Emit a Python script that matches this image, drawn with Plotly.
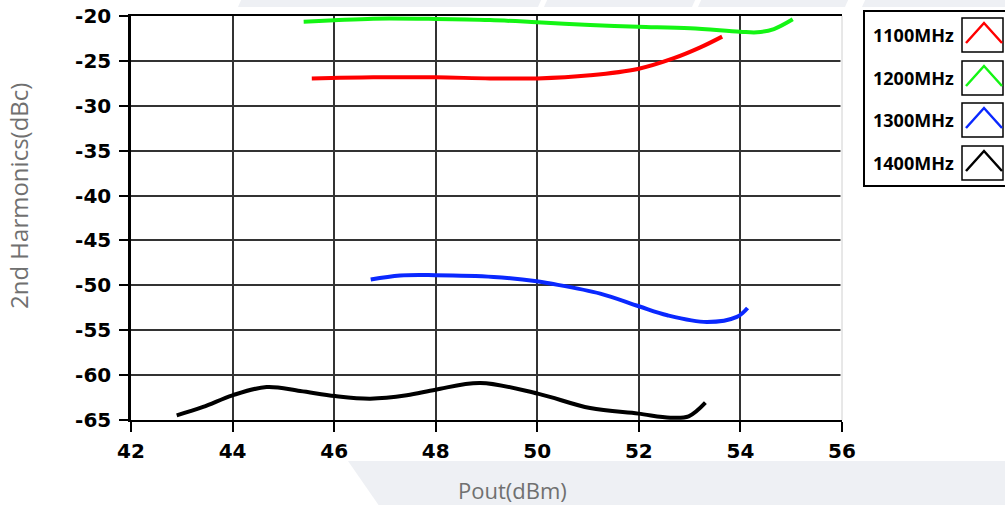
import plotly.graph_objects as go

# ---- data ----
series_names = ["1100MHz", "1200MHz", "1300MHz", "1400MHz"]
series_colors = ["#ff0000", "#14f514", "#0a28ff", "#000000"]

pout_1100 = [45.56, 46.77, 48.0, 49.07, 50.0, 51.04, 51.98, 52.69, 53.21, 53.64]
h2_1100 = [-26.95, -26.83, -26.83, -26.95, -26.95, -26.6, -25.9, -24.7, -23.5, -22.3]

pout_1200 = [45.40, 46.0, 46.77, 48.0, 49.07, 50.0, 51.04, 51.98, 53.01, 53.99, 54.33, 54.66, 55.03]
h2_1200 = [-20.64, -20.48, -20.3, -20.33, -20.45, -20.7, -21.0, -21.19, -21.37, -21.75, -21.82, -21.45, -20.37]

pout_1300 = [46.72, 47.30, 47.99, 49.14, 49.99, 50.26, 51.24, 52.0, 52.56, 53.34, 53.93, 54.14]
h2_1300 = [-49.36, -48.91, -48.87, -49.06, -49.54, -49.8, -50.92, -52.33, -53.33, -54.08, -53.52, -52.52]

pout_1400 = [42.9, 43.42, 44.0, 44.67, 45.33, 46.02, 46.71, 47.43, 48.0, 48.88, 50.01, 51.04, 51.99, 52.62, 52.98, 53.31]
h2_1400 = [-64.48, -63.55, -62.25, -61.33, -61.77, -62.33, -62.62, -62.25, -61.62, -60.88, -62.06, -63.67, -64.29, -64.74, -64.59, -63.07]

x_ticks = [42, 44, 46, 48, 50, 52, 54, 56]
y_ticks = [-20, -25, -30, -35, -40, -45, -50, -55, -60, -65]

x_title = "Pout(dBm)"
y_title = "2nd Harmonics(dBc)"

# ---- figure ----
W, H = 1005, 505
L, R, T, B = 131, 842, 16, 420


def px(x):
    return (x - L) / (R - L)


def py(y):
    return (B - y) / (B - T)


fig = go.Figure()
for name, color, xs, ys in zip(series_names, series_colors,
                               [pout_1100, pout_1200, pout_1300, pout_1400],
                               [h2_1100, h2_1200, h2_1300, h2_1400]):
    fig.add_trace(go.Scatter(x=xs, y=ys, mode="lines", name=name,
                             line=dict(color=color, width=4, shape="spline"),
                             showlegend=False, cliponaxis=False))

tick_font = dict(family="DejaVu Sans", size=20, color="#000000", weight="bold")

fig.update_layout(
    width=W, height=H,
    margin=dict(l=L, r=W - R, t=T, b=H - B, pad=0, autoexpand=False),
    paper_bgcolor="#ffffff", plot_bgcolor="#ffffff",
    xaxis=dict(range=[42, 56], tickvals=x_ticks, ticktext=[str(v) for v in x_ticks],
               showgrid=True, gridcolor="#333333", gridwidth=1.5,
               showline=True, linecolor="#000000", linewidth=2, mirror=True,
               ticks="outside", ticklen=10, tickwidth=2, tickcolor="#000000",
               tickfont=tick_font, zeroline=False, ticklabelstandoff=2,
               automargin=False),
    yaxis=dict(range=[-65, -20], tickvals=y_ticks, ticktext=[str(v) for v in y_ticks],
               showgrid=True, gridcolor="#333333", gridwidth=1.5,
               showline=True, linecolor="#000000", linewidth=2.5,
               ticks="outside", ticklen=9, tickwidth=1.5, tickcolor="#000000",
               tickfont=tick_font, zeroline=False, ticklabelstandoff=4,
               automargin=False),
)

shapes = []
gray = "#eef0f4"
# bottom gray band with diagonal left edge
shapes.append(dict(type="path", xref="paper", yref="paper", layer="below",
                   path=f"M {px(348)},{py(461)} L {px(1010)},{py(461)} L {px(1010)},{py(510)} L {px(382)},{py(510)} Z",
                   fillcolor=gray, line=dict(width=0)))
# top gray band pieces
for a, b in [(242, 538), (548, 692), (702, 845), (866, 1010)]:
    shapes.append(dict(type="path", xref="paper", yref="paper", layer="below",
                       path=f"M {px(a)},{py(-2)} L {px(b + 4)},{py(-2)} L {px(b)},{py(7)} L {px(a - 4)},{py(7)} Z",
                       fillcolor=gray, line=dict(width=0)))
# right edge of plot area: hide dark gridline, draw faint border
shapes.append(dict(type="line", xref="paper", yref="paper", x0=1, x1=1, y0=0.003, y1=0.997,
                   line=dict(color="#ffffff", width=3)))
shapes.append(dict(type="line", xref="paper", yref="paper", x0=1, x1=1, y0=0, y1=1,
                   line=dict(color="#d0d0d0", width=1)))

# legend box
shapes.append(dict(type="rect", xref="paper", yref="paper",
                   x0=px(864), x1=px(1012), y0=py(186), y1=py(11),
                   line=dict(color="#000000", width=2), fillcolor="rgba(0,0,0,0)"))
box_tops = [18, 61, 103, 146]
annotations = []
for name, color, bt in zip(series_names, series_colors, box_tops):
    shapes.append(dict(type="rect", xref="paper", yref="paper",
                       x0=px(962), x1=px(1003), y0=py(bt + 34), y1=py(bt),
                       line=dict(color="#000000", width=1.5), fillcolor="#ffffff"))
    shapes.append(dict(type="path", xref="paper", yref="paper",
                       path=f"M {px(966)},{py(bt + 25)} L {px(984)},{py(bt + 5)} L {px(1002)},{py(bt + 25)}",
                       line=dict(color=color, width=2.5)))
    annotations.append(dict(xref="paper", yref="paper", x=px(871), y=py(bt + 17),
                            xanchor="left", yanchor="middle", showarrow=False,
                            text=name,
                            font=dict(family="Open Sans", size=18, color="#000000", weight="bold")))

# axis titles
annotations.append(dict(xref="paper", yref="paper", x=px(512), y=py(490),
                        xanchor="center", yanchor="middle", showarrow=False,
                        text=x_title, font=dict(family="Open Sans", size=22, color="#707070")))
annotations.append(dict(xref="paper", yref="paper", x=px(19), y=py(196),
                        xanchor="center", yanchor="middle", showarrow=False, textangle=-90,
                        text=y_title, font=dict(family="Open Sans", size=24, color="#707070")))

fig.update_layout(shapes=shapes, annotations=annotations)

fig.write_html("out.html",
               config={"displayModeBar": False},
               post_script="document.body.style.margin='0px';document.documentElement.style.overflow='hidden';")
